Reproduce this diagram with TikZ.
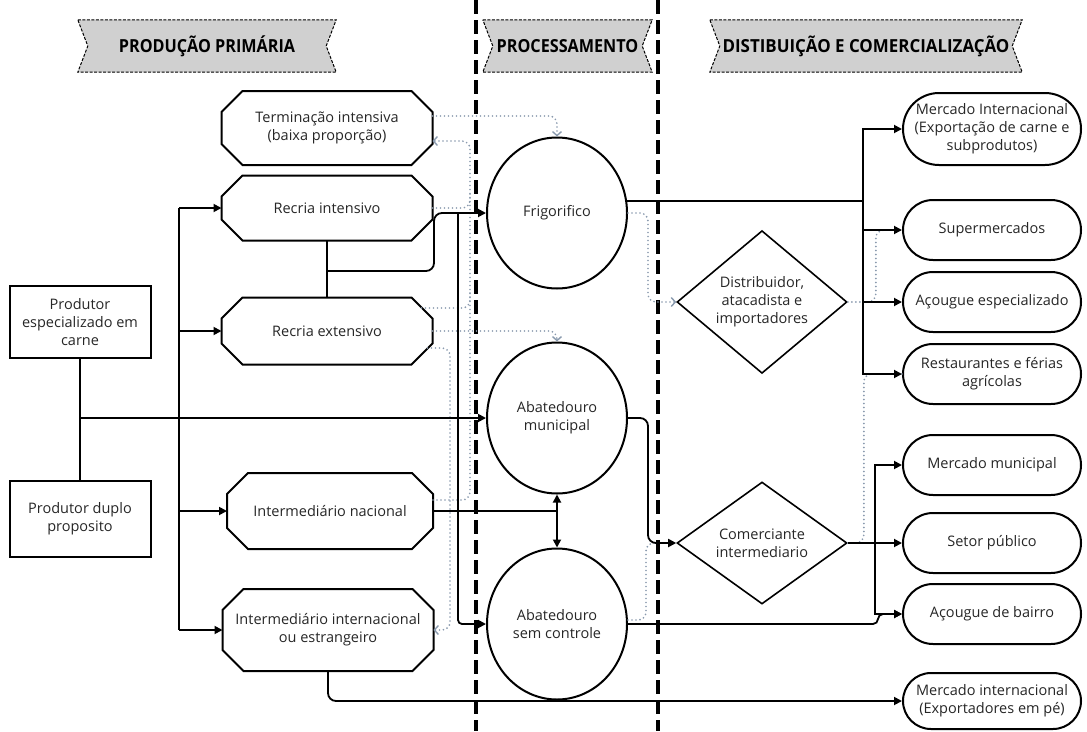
\documentclass[tikz,border=0pt]{standalone}
\usepackage{fontspec}
\usepackage{graphicx}
\setmainfont{Open Sans}
\usetikzlibrary{shapes.misc,shapes.geometric,arrows.meta,backgrounds}

\definecolor{pontilhado}{HTML}{8A9AAE}
\definecolor{cinzafaixa}{HTML}{D0D0D0}
\definecolor{texto}{HTML}{262626}

\tikzset{
  base/.style={draw, line width=2pt, align=center, text=texto, inner sep=2pt,
    font=\fontsize{14.5}{18}\selectfont},
  produtor/.style={base, rectangle, minimum width=141pt, minimum height=72pt},
  etapa/.style={base, draw=none, rectangle, minimum width=209pt, minimum height=65pt},
  octogono/.style={line width=2pt},
  planta/.style={base, ellipse, minimum width=140pt, minimum height=151pt, inner sep=0pt},
  agente/.style={base, diamond, minimum width=170pt, minimum height=122pt, inner sep=0pt, line width=1.6pt},
  mercado/.style={base, rounded rectangle, minimum width=182pt, minimum height=60pt},
  titulo/.style={minimum height=52pt, inner sep=0pt, text=black,
    font=\bfseries\fontsize{18}{20}\selectfont},
  faixa/.style={fill=cinzafaixa, draw, line width=1pt, dash pattern=on 3pt off 1.5pt},
  divisa/.style={line width=3.2pt, dash pattern=on 14pt off 6pt},
  linha/.style={line width=1.8pt},
  fluxo/.style={linha, -{Triangle[length=8pt,width=8pt]}},
  indireto/.style={pontilhado, line width=1.9pt, line cap=round, dash pattern=on 0pt off 4pt,
    rounded corners=8pt},
  ponta/.style={-{Straight Barb[length=4pt,width=9pt,line width=1.4pt]}}
}

\begin{document}
\begin{tikzpicture}[x=1pt, y=-1pt]
	\useasboundingbox (0,0) rectangle (1087,731);

	% cabecalhos
	\node[titulo, minimum width=258pt] (tProd) at (207,46) {\scalebox{0.9}[1]{PRODUÇÃO PRIMÁRIA}};
	\node[titulo, minimum width=169pt] (tProc) at (567.5,46) {\scalebox{0.9}[1]{PROCESSAMENTO}};
	\node[titulo, minimum width=312pt] (tDist) at (866,46) {\scalebox{0.94}[1]{DISTIBUIÇÃO E COMERCIALIZAÇÃO}};
	\begin{scope}[on background layer]
		\foreach \t in {tProd,tProc,tDist}
			\draw[faixa] (\t.north west) -- (\t.north east) -- ([xshift=-10pt]\t.east) -- (\t.south east)
				-- (\t.south west) -- ([xshift=10pt]\t.west) -- cycle;
	\end{scope}

	% divisorias
	\draw[divisa] (476,0) -- (476,731);
	\draw[divisa] (658,0) -- (658,731);

	% producao primaria
	\node[produtor] (prodCarne) at (80,322) {Produtor\\especializado em\\carne};
	\node[produtor, minimum height=76pt] (prodDuplo) at (80,519) {Produtor duplo\\proposito};
	\node[etapa, minimum height=72pt] (termina) at (327,128) {Terminação intensiva\\(baixa proporção)};
	\node[etapa, minimum height=63pt] (recriaInt) at (327,208) {Recria intensivo};
	\node[etapa] (recriaExt) at (327,331) {Recria extensivo};
	\node[etapa, minimum width=204pt, minimum height=74pt] (interNac) at (330,511) {Intermediário nacional};
	\node[etapa, minimum height=80pt] (interInt) at (328,630) {Intermediário internacional\\ou estrangeiro};
	\foreach \n in {termina,recriaInt,recriaExt,interNac,interInt}
		\draw[octogono] ([xshift=21pt]\n.north west) -- ([xshift=-21pt]\n.north east)
			-- ([yshift=-21pt]\n.north east) -- ([yshift=21pt]\n.south east)
			-- ([xshift=-21pt]\n.south east) -- ([xshift=21pt]\n.south west)
			-- ([yshift=21pt]\n.south west) -- ([yshift=-21pt]\n.north west) -- cycle;

	% processamento
	\node[planta] (frigo) at (557,213) {Frigorifico};
	\node[planta] (abMun) at (557,418) {Abatedouro\\municipal};
	\node[planta] (abSem) at (557,624) {Abatedouro\\sem controle};

	% distribuicao
	\node[agente] (distrib) at (762,302) {Distribuidor,\\atacadista e\\importadores};
	\node[agente] (comerc) at (762,543) {Comerciante\\intermediario};
	\node[mercado, minimum height=72pt] (mInter) at (992,129) {Mercado Internacional\\(Exportação de carne e\\subprodutos)};
	\node[mercado] (superm) at (992,230) {Supermercados};
	\node[mercado] (acEsp) at (992,302) {Açougue especializado};
	\node[mercado] (restaur) at (992,374) {Restaurantes e férias\\agrícolas};
	\node[mercado] (mMun) at (992,465) {Mercado municipal};
	\node[mercado] (setor) at (992,543) {Setor público};
	\node[mercado] (acBairro) at (992,614) {Açougue de bairro};
	\node[mercado, minimum height=56pt] (mExport) at (992,701) {Mercado internacional\\(Exportadores em pé)};

	\coordinate (jProd) at (80,418);
	\coordinate (busTop) at (179,208);
	\coordinate (busBot) at (179,630);
	\coordinate (jRecria) at (327,271);
	\coordinate (jFrigo) at (458,213);
	\coordinate (busR) at (863,302);
	\coordinate (busC) at (875,543);

	% fluxos indiretos
	\draw[indireto, ponta] ([yshift=12pt]termina.east) -| (frigo.north);
	\draw[indireto, ponta] ([yshift=11pt]interNac.east) -- (470,500) -- (470,141) -- ([yshift=-13pt]termina.east);
	\draw[indireto] (recriaInt.east) -| (470,190);
	\draw[indireto] ([xshift=-11pt,yshift=23pt]recriaExt.east) -| (470,290);
	\draw[indireto, ponta] (recriaExt.east) -| (abMun.north);
	\draw[indireto, ponta] ([xshift=-5pt,yshift=-17pt]recriaExt.east) -- (450,348) -- (450,630) -- (interInt.east);
	\draw[indireto, ponta] (frigo.east) -- ++(20,0) |- (distrib.west);
	\draw[indireto] (distrib.east) -- ++(28,0) |- (superm.west);
	\draw[indireto] (comerc.east) -- ++(16,0) |- (restaur.west);
	\draw[indireto] ([yshift=4pt]abSem.east) -- ++(18,0) |- (comerc.west);

	% fluxos principais
	\draw[linha] (prodCarne) -- (prodDuplo);
	\draw[fluxo] (jProd) -- (abMun.west);
	\draw[linha] (busTop) -- (busBot);
	\draw[fluxo] (busTop) -- (recriaInt.west);
	\draw[fluxo] (busTop |- recriaExt.west) -- (recriaExt.west);
	\draw[fluxo] (busTop |- interNac.west) -- (interNac.west);
	\draw[fluxo] (busBot) -- (interInt.west);
	\draw[linha] (recriaInt) -- (recriaExt);
	\draw[fluxo, rounded corners=8pt] (jRecria) -- (434,271) -- (434,213) -- (frigo.west);
	\draw[fluxo, rounded corners=4pt] (jFrigo) |- (abSem.west);
	\draw[linha] (frigo.10) -- (frigo.10 -| busR);
	\foreach \m in {mInter,superm,acEsp,restaur}
		\draw[fluxo] (busR |- frigo.10) |- (\m.west);
	\draw[fluxo, rounded corners=8pt] (abMun.east) -- ++(20,0) |- (comerc.west);
	\draw[linha] (interNac.east) -- (interNac.east -| abMun.south);
	\draw[linha, {Triangle[length=8pt,width=8pt]}-{Triangle[length=8pt,width=8pt]}] (abMun.south) -- (abSem.north);
	\draw[fluxo, rounded corners=5pt] (abSem.east) -| ([xshift=-24pt]acBairro.west) -- (acBairro.west);
	\draw[fluxo] (comerc.east) -- (setor.west);
	\draw[fluxo] (busC) |- (mMun.west);
	\draw[fluxo] (busC) |- (acBairro.west);
	\draw[fluxo, rounded corners=8pt] (interInt.south) |- (mExport.west);

\end{tikzpicture}
\end{document}
